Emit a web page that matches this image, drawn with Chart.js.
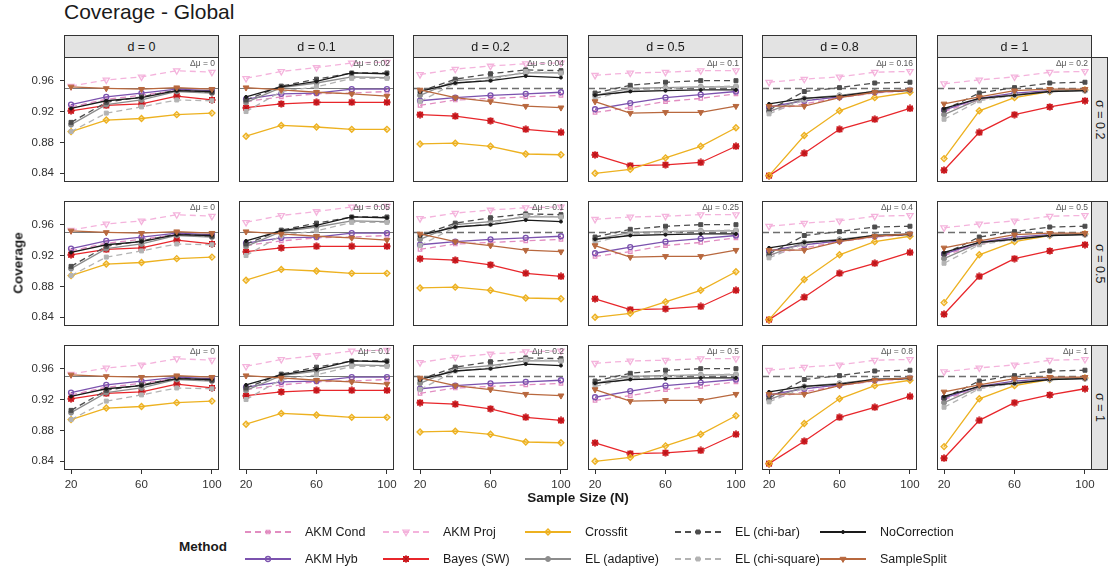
<!DOCTYPE html>
<html>
<head>
<meta charset="utf-8">
<script src="https://cdn.jsdelivr.net/npm/chart.js@4.4.1/dist/chart.umd.min.js"></script>
<style>
  body { margin: 0; background: #fff; font-family: "Liberation Sans", Arial, sans-serif; }
  #wrap { position: relative; width: 1109px; height: 573px; overflow: hidden; background: #fff; }
  #wrap canvas { position: absolute; }
  .txt { position: absolute; white-space: nowrap; color: #1a1a1a; }
  .strip { position: absolute; background: #e3e3e3; border: 1px solid #333; box-sizing: border-box;
           font-size: 12.5px; color: #1a1a1a; display: flex; align-items: center; justify-content: center; }
  .vstrip { writing-mode: vertical-rl; }
  .dmu { position: absolute; font-size: 8.5px; color: #555; text-align: right; width: 80px; }
</style>
</head>
<body>
<div id="wrap"></div>
<script>
// x values and facet labels
const sampleSizes = [20, 40, 60, 80, 100];
const dLabels = ['d = 0', 'd = 0.1', 'd = 0.2', 'd = 0.5', 'd = 0.8', 'd = 1'];
const sigmaLabels = ['σ = 0.2', 'σ = 0.5', 'σ = 1'];
const deltaMu = [
  ['0', '0.02', '0.04', '0.1', '0.16', '0.2'],
  ['0', '0.05', '0.1', '0.25', '0.4', '0.5'],
  ['0', '0.1', '0.2', '0.5', '0.8', '1']
];
const yTicks = [0.84, 0.88, 0.92, 0.96];
const xTicks = [20, 60, 100];
const nominal = 0.95;

// coverage per method, one row per d (N = 20, 40, 60, 80, 100)
const akmCond = [
  [0.926, 0.936, 0.941, 0.947, 0.945],
  [0.933, 0.939, 0.943, 0.944, 0.946],
  [0.928, 0.935, 0.937, 0.939, 0.941],
  [0.919, 0.925, 0.933, 0.937, 0.943],
  [0.921, 0.930, 0.938, 0.944, 0.947],
  [0.920, 0.935, 0.943, 0.946, 0.948]
];
const akmHyb = [
  [0.929, 0.939, 0.944, 0.949, 0.947],
  [0.936, 0.943, 0.944, 0.949, 0.949],
  [0.934, 0.938, 0.941, 0.943, 0.945],
  [0.923, 0.931, 0.938, 0.942, 0.946],
  [0.926, 0.934, 0.939, 0.945, 0.948],
  [0.922, 0.937, 0.944, 0.947, 0.948]
];
const akmProj = [
  [0.953, 0.961, 0.965, 0.973, 0.971],
  [0.963, 0.972, 0.977, 0.983, 0.984],
  [0.968, 0.975, 0.979, 0.982, 0.983],
  [0.967, 0.970, 0.971, 0.973, 0.973],
  [0.958, 0.962, 0.965, 0.971, 0.972],
  [0.956, 0.961, 0.965, 0.971, 0.972]
];
const bayesSW = [
  [0.921, 0.928, 0.930, 0.940, 0.935],
  [0.925, 0.930, 0.932, 0.932, 0.932],
  [0.916, 0.914, 0.908, 0.897, 0.893],
  [0.864, 0.850, 0.851, 0.854, 0.875],
  [0.837, 0.866, 0.897, 0.910, 0.924],
  [0.844, 0.893, 0.916, 0.926, 0.934]
];
const crossfit = [
  [0.894, 0.909, 0.911, 0.916, 0.918],
  [0.888, 0.902, 0.900, 0.897, 0.897],
  [0.878, 0.879, 0.875, 0.865, 0.864],
  [0.840, 0.845, 0.860, 0.875, 0.899],
  [0.837, 0.889, 0.921, 0.938, 0.945],
  [0.859, 0.921, 0.938, 0.946, 0.948]
];
const elAdaptive = [
  [0.903, 0.929, 0.935, 0.946, 0.944],
  [0.932, 0.951, 0.957, 0.965, 0.964],
  [0.941, 0.960, 0.964, 0.970, 0.970],
  [0.941, 0.950, 0.951, 0.952, 0.952],
  [0.920, 0.937, 0.941, 0.946, 0.948],
  [0.916, 0.936, 0.942, 0.946, 0.947]
];
const elChiBar = [
  [0.906, 0.932, 0.939, 0.948, 0.945],
  [0.935, 0.953, 0.962, 0.970, 0.970],
  [0.946, 0.962, 0.969, 0.974, 0.973],
  [0.944, 0.954, 0.958, 0.960, 0.960],
  [0.922, 0.946, 0.951, 0.957, 0.958],
  [0.922, 0.944, 0.951, 0.957, 0.958]
];
const elChiSq = [
  [0.894, 0.918, 0.926, 0.935, 0.934],
  [0.920, 0.946, 0.952, 0.963, 0.963],
  [0.933, 0.957, 0.961, 0.972, 0.970],
  [0.937, 0.948, 0.950, 0.952, 0.953],
  [0.917, 0.935, 0.941, 0.946, 0.948],
  [0.910, 0.934, 0.941, 0.946, 0.948]
];
const noCorrection = [
  [0.924, 0.934, 0.938, 0.947, 0.946],
  [0.939, 0.952, 0.959, 0.970, 0.969],
  [0.946, 0.957, 0.960, 0.966, 0.964],
  [0.941, 0.946, 0.947, 0.948, 0.948],
  [0.930, 0.937, 0.940, 0.946, 0.947],
  [0.924, 0.937, 0.941, 0.946, 0.947]
];
const sampleSplit = [
  [0.952, 0.950, 0.949, 0.951, 0.949],
  [0.951, 0.948, 0.945, 0.943, 0.940],
  [0.948, 0.938, 0.933, 0.927, 0.925],
  [0.933, 0.918, 0.919, 0.919, 0.927],
  [0.927, 0.927, 0.938, 0.945, 0.948],
  [0.930, 0.939, 0.947, 0.949, 0.949]
];

// custom marker for Bayes (SW): square with cross
function bayesMarker() {
  const c = document.createElement('canvas');
  c.width = 8; c.height = 8;
  const g = c.getContext('2d');
  g.fillStyle = '#E8262B';
  g.fillRect(1, 1, 6, 6);
  g.strokeStyle = '#b3141a';
  g.lineWidth = 1;
  g.beginPath();
  g.moveTo(1, 1); g.lineTo(7, 7); g.moveTo(7, 1); g.lineTo(1, 7);
  g.moveTo(4, 0); g.lineTo(4, 8); g.moveTo(0, 4); g.lineTo(8, 4);
  g.stroke();
  return c;
}

const methods = [
  { name: 'AKM Cond', values: akmCond, color: '#E28DC1', dash: true, style: 'rect', radius: 2.5, fill: 'rgba(0,0,0,0)', bw: 1.2 },
  { name: 'AKM Hyb', values: akmHyb, color: '#7B52AE', dash: false, style: 'circle', radius: 2.5, fill: 'rgba(0,0,0,0)', bw: 1.3 },
  { name: 'AKM Proj', values: akmProj, color: '#F4B3DC', dash: true, style: 'triangle', rot: 180, radius: 3.6, fill: 'rgba(0,0,0,0)', bw: 1.3 },
  { name: 'Bayes (SW)', values: bayesSW, color: '#E8262B', dash: false, style: bayesMarker(), radius: 3.5, fill: '#E8262B', bw: 1 },
  { name: 'Crossfit', values: crossfit, color: '#EDB120', dash: false, style: 'rectRot', radius: 3, fill: 'rgba(237,177,32,0.35)', bw: 1.3 },
  { name: 'EL (adaptive)', values: elAdaptive, color: '#8c8c8c', dash: false, style: 'circle', radius: 2.5, fill: '#8c8c8c', bw: 1 },
  { name: 'EL (chi-bar)', values: elChiBar, color: '#4d4d4d', dash: true, style: 'rect', radius: 2.8, fill: '#4d4d4d', bw: 1 },
  { name: 'EL (chi-square)', values: elChiSq, color: '#b3b3b3', dash: true, style: 'rect', radius: 2.8, fill: '#b3b3b3', bw: 1 },
  { name: 'NoCorrection', values: noCorrection, color: '#1a1a1a', dash: false, style: 'circle', radius: 1.5, fill: '#1a1a1a', bw: 1 },
  { name: 'SampleSplit', values: sampleSplit, color: '#B8683E', dash: false, style: 'triangle', rot: 180, radius: 3.4, fill: '#B8683E', bw: 1 }
];

// layout
const colLeft = [64, 239, 413, 588, 762, 937];
const rowTop = [57, 201, 345];
const panelW = 155, panelH = 125;
const padL = 45, padT = 6, padR = 8, padB = 30;
const refDashed = [false, false, true, true, true, true];
const font = { family: '"Liberation Sans", Arial, sans-serif', size: 11.5 };
const wrap = document.getElementById('wrap');

function addText(txt, css, cls) {
  const el = document.createElement('div');
  el.className = cls || 'txt';
  el.textContent = txt;
  Object.assign(el.style, css);
  wrap.appendChild(el);
  return el;
}

function noPadding(s) {
  s.paddingTop = 0; s.paddingBottom = 0; s.paddingLeft = 0; s.paddingRight = 0;
}

// 0.95 reference line and panel border
const panelPlugin = {
  id: 'panelDecor',
  beforeDatasetsDraw(chart, args, opts) {
    const { ctx, chartArea: a, scales: { y } } = chart;
    const py = Math.round(y.getPixelForValue(nominal)) + 0.5;
    ctx.save();
    if (opts.dashed) {
      ctx.strokeStyle = '#6e6e6e';
      ctx.lineWidth = 1.3;
      ctx.setLineDash([7, 4]);
    } else {
      ctx.strokeStyle = '#7a7a7a';
      ctx.lineWidth = 1;
    }
    ctx.beginPath();
    ctx.moveTo(a.left, py);
    ctx.lineTo(a.right, py);
    ctx.stroke();
    ctx.restore();
  },
  afterDatasetsDraw(chart) {
    const { ctx, chartArea: a } = chart;
    ctx.save();
    ctx.strokeStyle = '#333';
    ctx.lineWidth = 1;
    ctx.strokeRect(a.left + 0.5, a.top + 0.5, a.right - a.left - 1, a.bottom - a.top - 1);
    ctx.restore();
  }
};

for (let r = 0; r < 3; r++) {
  for (let c = 0; c < 6; c++) {
    const cv = document.createElement('canvas');
    const w = panelW + padL + padR, h = panelH + padT + padB;
    cv.width = w; cv.height = h;
    cv.style.left = (colLeft[c] - padL) + 'px';
    cv.style.top = (rowTop[r] - padT) + 'px';
    cv.style.width = w + 'px'; cv.style.height = h + 'px';
    wrap.appendChild(cv);

    const datasets = methods.map((m, i) => ({
      label: m.name,
      data: sampleSizes.map((n, k) => ({ x: n, y: m.values[c][k] })),
      borderColor: m.color,
      backgroundColor: m.fill,
      borderWidth: 1.3,
      borderDash: m.dash ? [6, 4] : [],
      pointStyle: m.style,
      pointRotation: m.rot || 0,
      pointRadius: m.radius,
      pointBorderWidth: m.bw,
      pointBorderColor: m.color,
      pointBackgroundColor: m.fill,
      tension: 0,
      order: methods.length - i
    }));

    new Chart(cv.getContext('2d'), {
      type: 'line',
      data: { datasets },
      options: {
        responsive: false,
        animation: false,
        devicePixelRatio: 1,
        layout: { padding: { top: padT, right: padR, left: 0, bottom: 0 } },
        plugins: {
          legend: { display: false },
          tooltip: { enabled: false },
          panelDecor: { dashed: refDashed[c] }
        },
        scales: {
          x: {
            type: 'linear', min: 16, max: 104,
            afterFit: s => { s.height = padB; noPadding(s); },
            afterBuildTicks: s => { s.ticks = xTicks.map(v => ({ value: v })); },
            grid: { display: r === 2, drawOnChartArea: false, tickLength: 4, color: '#333' },
            border: { display: false },
            ticks: { display: r === 2, padding: 4, font, color: '#333', autoSkip: false, maxRotation: 0,
                     callback: v => String(v) }
          },
          y: {
            type: 'linear', min: 0.8287, max: 0.9907,
            afterFit: s => { s.width = padL; noPadding(s); },
            afterBuildTicks: s => { s.ticks = yTicks.map(v => ({ value: v })); },
            grid: { display: c === 0, drawOnChartArea: false, tickLength: 4, color: '#333' },
            border: { display: false },
            ticks: { display: c === 0, padding: 6, font, color: '#333', callback: v => v.toFixed(2) }
          }
        }
      },
      plugins: [panelPlugin]
    });

    // delta mu annotation
    addText('Δμ = ' + deltaMu[r][c], { left: (colLeft[c] + 151 - 80) + 'px', top: (rowTop[r] + 1) + 'px' }, 'dmu');
  }
  // sigma strip on the right
  addText(sigmaLabels[r], { left: '1091px', top: rowTop[r] + 'px', width: '17px', height: panelH + 'px' }, 'strip vstrip');
}

// top strips
dLabels.forEach((lab, c) => {
  addText(lab, { left: colLeft[c] + 'px', top: '35px', width: panelW + 'px', height: '23px' }, 'strip');
});

// titles
addText('Coverage - Global', { left: '64px', top: '-1px', fontSize: '21px', lineHeight: '26px' });
addText('Sample Size (N)', { left: '578px', top: '490px', fontSize: '13.5px', fontWeight: 'bold', transform: 'translateX(-50%)' });
addText('Coverage', { left: '18px', top: '263px', fontSize: '13.5px', fontWeight: 'bold', transform: 'translate(-50%,-50%) rotate(-90deg)' });

// legend
addText('Method', { left: '179px', top: '539px', fontSize: '13.5px', fontWeight: 'bold' });
const keyLeft = [245, 383, 525, 675, 820];
const labelLeft = [305, 443, 585, 735, 880];
const rowY = [532, 559];
methods.forEach((m, i) => {
  const col = Math.floor(i / 2), row = i % 2;
  const kc = document.createElement('canvas');
  kc.width = 46; kc.height = 16;
  kc.style.left = keyLeft[col] + 'px';
  kc.style.top = (rowY[row] - 8) + 'px';
  wrap.appendChild(kc);
  const g = kc.getContext('2d');
  g.strokeStyle = m.color;
  g.lineWidth = 2;
  g.setLineDash(m.dash ? [6, 4] : []);
  g.beginPath(); g.moveTo(0, 8); g.lineTo(46, 8); g.stroke();
  g.setLineDash([]);
  g.fillStyle = m.fill;
  g.lineWidth = m.bw;
  if (Chart.helpers && Chart.helpers.drawPoint) {
    Chart.helpers.drawPoint(g, { pointStyle: m.style, radius: m.radius, rotation: m.rot || 0, borderWidth: m.bw }, 23, 8);
  }
  addText(m.name, { left: labelLeft[col] + 'px', top: (rowY[row] - 8) + 'px', fontSize: '12.5px', lineHeight: '16px' });
});
</script>
</body>
</html>
